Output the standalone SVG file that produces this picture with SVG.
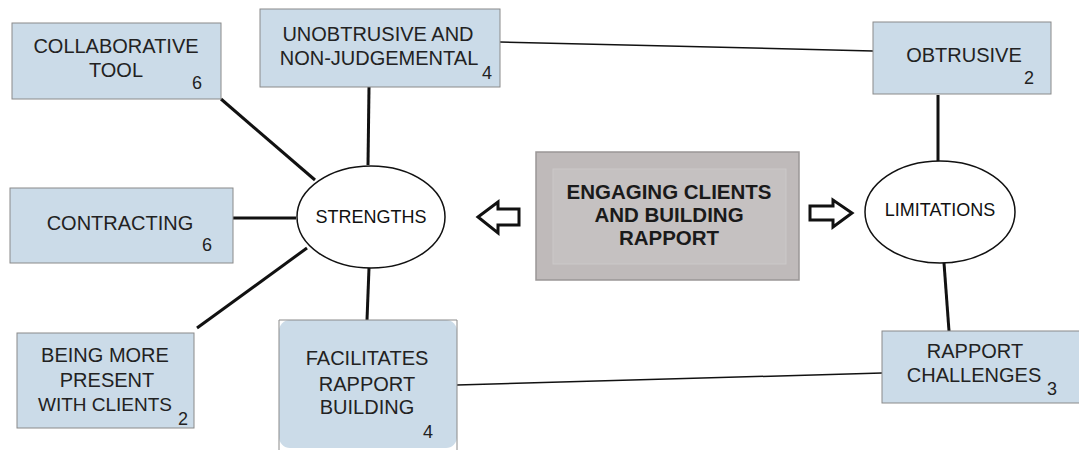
<svg xmlns="http://www.w3.org/2000/svg" width="1079" height="450" viewBox="0 0 1079 450">
<style>
.box{fill:#cbdbe8;stroke:#8a8a8a;stroke-width:1}
.lbl{font-family:"Liberation Sans",Arial,sans-serif;font-size:20px;fill:#222;text-anchor:middle}
.num{font-family:"Liberation Sans",Arial,sans-serif;font-size:18px;fill:#222;text-anchor:middle}
.ell{fill:#fff;stroke:#111;stroke-width:1.5}
.elbl{font-family:"Liberation Sans",Arial,sans-serif;font-size:18px;fill:#111;text-anchor:middle}
.thick{stroke:#111;stroke-width:3;fill:none}
.thin{stroke:#111;stroke-width:1.5;fill:none}
.arr{fill:#fff;stroke:#111;stroke-width:3;stroke-linejoin:miter}
.ctr{font-family:"Liberation Sans",Arial,sans-serif;font-size:20.5px;font-weight:bold;fill:#1a1a1a;text-anchor:middle}
</style>
<rect width="1079" height="450" fill="#fff"/>
<g id="connectors">
<line class="thick" x1="221" y1="99" x2="315" y2="180"/>
<line class="thick" x1="369" y1="87" x2="368" y2="165"/>
<line class="thick" x1="233" y1="218" x2="296" y2="218"/>
<line class="thick" x1="197" y1="328" x2="307" y2="248"/>
<line class="thick" x1="369" y1="268" x2="367" y2="320"/>
<line class="thin" x1="500" y1="42" x2="873" y2="51"/>
<line class="thin" x1="457" y1="385" x2="882" y2="373"/>
<line class="thick" x1="938" y1="95" x2="938" y2="161"/>
<line class="thick" x1="944" y1="263" x2="949" y2="331"/>
<polygon class="arr" points="478,217 498,202 498,209 519,209 519,225 498,225 498,233"/>
<polygon class="arr" points="810,206 833,206 833,200 852,213 833,227 833,220 810,220"/>
</g>
<g id="collaborative">
<rect class="box" x="12" y="23" width="209" height="76"/>
<text class="lbl" x="116" y="53">COLLABORATIVE</text>
<text class="lbl" x="116" y="77">TOOL</text>
<text class="num" x="197" y="89">6</text>
</g>
<g id="unobtrusive">
<rect class="box" x="260" y="9" width="240" height="78"/>
<text class="lbl" x="378" y="41">UNOBTRUSIVE AND</text>
<text class="lbl" x="379" y="65">NON-JUDGEMENTAL</text>
<text class="num" x="487" y="79">4</text>
</g>
<g id="obtrusive">
<rect class="box" x="873" y="22" width="178" height="72"/>
<text class="lbl" x="964" y="62">OBTRUSIVE</text>
<text class="num" x="1029" y="84">2</text>
</g>
<g id="contracting">
<rect class="box" x="10" y="188" width="223" height="75"/>
<text class="lbl" x="120" y="230">CONTRACTING</text>
<text class="num" x="207" y="251">6</text>
</g>
<g id="strengths">
<ellipse class="ell" cx="371" cy="217" rx="74" ry="51"/>
<text class="elbl" x="371" y="223">STRENGTHS</text>
</g>
<g id="central">
<rect x="536" y="152" width="263" height="128" fill="#bfbaba" stroke="#9a9696" stroke-width="1.5"/>
<rect x="553" y="169" width="233" height="95" fill="#c5c1c1" stroke="#cbc8c8" stroke-width="1"/>
<text class="ctr" x="669" y="199">ENGAGING CLIENTS</text>
<text class="ctr" x="669" y="222">AND BUILDING</text>
<text class="ctr" x="669" y="245">RAPPORT</text>
</g>
<g id="limitations">
<ellipse class="ell" cx="940" cy="212" rx="75" ry="51"/>
<text class="elbl" x="940" y="216">LIMITATIONS</text>
</g>
<g id="being-present">
<rect class="box" x="17" y="333" width="177" height="95"/>
<text class="lbl" x="105" y="362">BEING MORE</text>
<text class="lbl" x="107" y="387">PRESENT</text>
<text class="lbl" x="105" y="411" style="font-size:19px">WITH CLIENTS</text>
<text class="num" x="183" y="425">2</text>
</g>
<g id="facilitates">
<rect x="279" y="320" width="178" height="128" rx="11" fill="#cbdbe8"/>
<path d="M279,450 V320 H457 V450" fill="none" stroke="#8a8a8a" stroke-width="1"/>
<text class="lbl" x="367" y="365">FACILITATES</text>
<text class="lbl" x="367" y="391">RAPPORT</text>
<text class="lbl" x="367" y="414">BUILDING</text>
<text class="num" x="428" y="438">4</text>
</g>
<g id="rapport-challenges">
<rect class="box" x="882" y="331" width="200" height="72"/>
<text class="lbl" x="975" y="358">RAPPORT</text>
<text class="lbl" x="974" y="382">CHALLENGES</text>
<text class="num" x="1052" y="395">3</text>
</g>
</svg>
